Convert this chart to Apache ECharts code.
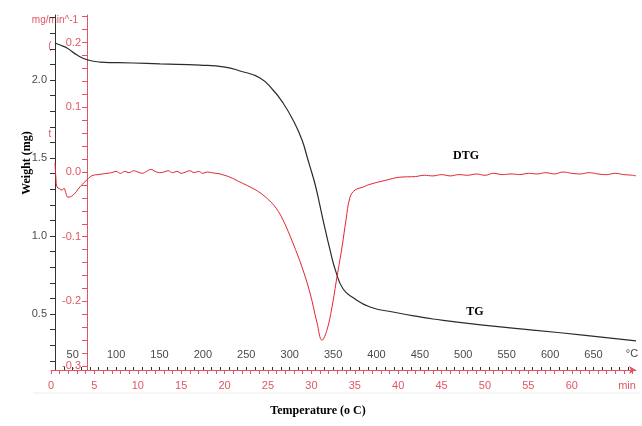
<!DOCTYPE html>
<html>
<head>
<meta charset="utf-8">
<title>TG / DTG</title>
<script src="https://cdn.jsdelivr.net/npm/echarts@6.0.0/dist/echarts.min.js"></script>
<style>
  html, body { margin: 0; padding: 0; background: #fff; }
  #chart { width: 642px; height: 426px; }
</style>
</head>
<body>
<div id="chart"></div>
<script>
// TG curve: time (min) vs weight (mg)
const tgTime = [0.46, 1.04, 1.84, 3.0, 4.26, 5.65, 9.45, 12.56, 17.17, 20.05, 21.77, 24.08,
  25.58, 26.73, 27.88, 28.92, 29.61, 30.0, 30.41, 30.88, 31.34, 32.14, 32.83, 33.64, 34.79,
  36.75, 39.4, 42.51, 44.0, 49.77, 55.53, 61.29, 67.4];
const tgWeight = [2.237, 2.224, 2.205, 2.16, 2.128, 2.115, 2.109, 2.103, 2.096, 2.083, 2.058, 2.013,
  1.936, 1.853, 1.744, 1.615, 1.487, 1.415, 1.335, 1.222, 1.104, 0.912, 0.77, 0.662, 0.605,
  0.545, 0.513, 0.481, 0.468, 0.429, 0.397, 0.365, 0.328];

// DTG curve: time (min) vs mg/min
const dtgTime = [0.46, 0.58, 0.69, 1.0, 1.27, 1.5, 1.7, 1.96, 2.53, 3.34, 4.15, 4.84, 5.4, 5.9, 6.45,
  7.0, 7.5, 8.0, 8.5, 9.0, 9.5, 10, 10.5, 11, 11.5, 12, 12.5, 13, 13.5, 14, 14.5, 15, 15.5,
  16, 16.5, 17, 17.5, 18, 18.5, 19, 19.47, 20.62, 21.77, 22.93, 24.08, 25.23, 26.0, 26.73, 27.88,
  28.92, 29.84, 30.65, 31.22, 31.8, 32.37, 32.95, 33.53, 33.99, 34.45, 35.02, 36.0, 36.75,
  38.5, 40.2, 42, 43, 44, 45, 46, 47, 48, 49, 50, 51, 52, 53, 54, 55, 56, 57, 58, 59, 60,
  61, 62, 63, 64, 65, 66, 67, 67.4];
const dtgValue = [0.014, -0.012, -0.023, -0.026, -0.028, -0.025, -0.032, -0.039, -0.036, -0.023, -0.012, -0.005, -0.004, -0.003, -0.002,
  -0.001, 0.001, -0.002, 0.001, -0.001, 0.002, 0.0, -0.002, 0.001, 0.004, 0.001, -0.001, 0.0, 0.002, -0.001, 0.001, -0.002, 0.0,
  0.002, -0.001, 0.001, -0.002, 0.0, -0.001, -0.002, -0.003, -0.008, -0.0155, -0.023, -0.032, -0.045, -0.057, -0.074, -0.11,
  -0.147, -0.187, -0.233, -0.26, -0.244, -0.209, -0.162, -0.116, -0.074, -0.039, -0.028, -0.023, -0.019,
  -0.013, -0.008, -0.007, -0.005, -0.006, -0.004, -0.006, -0.004, -0.005, -0.003, -0.005, -0.002, -0.004, -0.003, -0.004, -0.002, -0.003, -0.001, -0.003, 0.0, -0.002,
  -0.003, -0.001, -0.003, -0.004, -0.002, -0.004, -0.005, -0.006];

// tick labels
const weightLabels = [0.5, 1.0, 1.5, 2.0];
const dtgLabels = [-0.3, -0.2, -0.1, 0.0, 0.1, 0.2];
const timeLabels = [0, 5, 10, 15, 20, 25, 30, 35, 40, 45, 50, 55, 60];
const tempLabels = [50, 100, 150, 200, 250, 300, 350, 400, 450, 500, 550, 600, 650];

const steps = (from, to, step) => {
  const out = [];
  for (let v = from; v <= to + 1e-9; v += step) out.push(Math.round(v * 1000) / 1000);
  return out;
};

const RED = "#e05563";
const LINE_RED = "#e2262f";
const GRAY = "#4a4a4a";
const labelFont = "Liberation Sans, Arial, sans-serif";
const titleFont = "bold 12px Liberation Serif, Times New Roman, serif";

const chart = echarts.init(document.getElementById("chart"));

chart.setOption({
  animation: false,
  backgroundColor: "#fff",
  grid: { left: 51, right: 6, top: 15, bottom: 56 },
  xAxis: [
    {
      type: "value",
      min: 0,
      max: 67.4,
      position: "bottom",
      splitLine: { show: false },
      axisLine: {
        onZero: false,
        lineStyle: { color: RED, width: 1 },
        symbol: ["none", "arrow"],
        symbolSize: [6, 7],
      },
      axisTick: { customValues: steps(0, 67, 1), length: 4, lineStyle: { color: RED } },
      axisLabel: {
        customValues: timeLabels,
        color: RED,
        fontSize: 11,
        fontFamily: labelFont,
        margin: 10,
      },
    },
    {
      type: "value",
      min: 25,
      max: 699,
      position: "bottom",
      splitLine: { show: false },
      axisLine: { show: false, onZero: false },
      axisTick: {
        inside: true,
        customValues: steps(30, 690, 10),
        length: 3,
        lineStyle: { color: "#333" },
      },
      axisLabel: {
        inside: true,
        customValues: tempLabels,
        color: GRAY,
        fontSize: 11,
        fontFamily: labelFont,
        margin: 10,
      },
    },
  ],
  yAxis: [
    {
      type: "value",
      min: 0.141,
      max: 2.4167,
      position: "left",
      offset: -4,
      splitLine: { show: false },
      axisLine: { show: true, onZero: false, lineStyle: { color: "#333" } },
      axisTick: { customValues: steps(0.2, 2.4, 0.1), length: 5, lineStyle: { color: "#333" } },
      axisLabel: {
        customValues: weightLabels,
        formatter: (v) => v.toFixed(1),
        color: GRAY,
        fontSize: 11,
        fontFamily: labelFont,
        margin: 8,
      },
    },
    {
      type: "value",
      min: -0.306,
      max: 0.2427,
      position: "left",
      offset: -36,
      splitLine: { show: false },
      axisLine: { show: true, onZero: false, lineStyle: { color: RED } },
      axisTick: { customValues: steps(-0.3, 0.24, 0.02), length: 5, lineStyle: { color: RED } },
      axisLabel: {
        customValues: dtgLabels,
        formatter: (v) => v.toFixed(1),
        color: RED,
        fontSize: 11,
        fontFamily: labelFont,
        margin: 6,
      },
    },
  ],
  series: [
    {
      name: "TG",
      type: "line",
      xAxisIndex: 0,
      yAxisIndex: 0,
      showSymbol: false,
      smooth: 0.5,
      lineStyle: { color: "#2b2b2b", width: 1.2 },
      data: tgTime.map((t, i) => [t, tgWeight[i]]),
    },
    {
      name: "DTG",
      type: "line",
      xAxisIndex: 0,
      yAxisIndex: 1,
      showSymbol: false,
      smooth: 0.4,
      lineStyle: { color: LINE_RED, width: 1 },
      data: dtgTime.map((t, i) => [t, dtgValue[i]]),
    },
  ],
  graphic: [
    {
      type: "text",
      x: 27,
      y: 163,
      rotation: Math.PI / 2,
      style: { text: "Weight (mg)", font: titleFont, fill: "#000", textAlign: "center", textVerticalAlign: "middle" },
    },
    {
      type: "text",
      x: 318,
      y: 411,
      style: { text: "Temperature (o C)", font: titleFont, fill: "#000", textAlign: "center", textVerticalAlign: "middle" },
    },
    {
      type: "text",
      x: 466,
      y: 156,
      style: { text: "DTG", font: titleFont, fill: "#000", textAlign: "center", textVerticalAlign: "middle" },
    },
    {
      type: "text",
      x: 475,
      y: 312,
      style: { text: "TG", font: titleFont, fill: "#000", textAlign: "center", textVerticalAlign: "middle" },
    },
    {
      type: "text",
      x: 55,
      y: 20,
      style: { text: "mg/min^-1", font: "10px " + labelFont, fill: RED, textAlign: "center", textVerticalAlign: "middle" },
    },
    {
      type: "text",
      x: 50,
      y: 46,
      style: { text: "(", font: "10px " + labelFont, fill: RED, textAlign: "center", textVerticalAlign: "middle" },
    },
    {
      type: "text",
      x: 50,
      y: 134,
      style: { text: "t", font: "10px " + labelFont, fill: RED, textAlign: "center", textVerticalAlign: "middle" },
    },
    {
      type: "text",
      x: 632,
      y: 354,
      style: { text: "°C", font: "11px " + labelFont, fill: GRAY, textAlign: "center", textVerticalAlign: "middle" },
    },
    {
      type: "text",
      x: 627,
      y: 386,
      style: { text: "min", font: "11px " + labelFont, fill: RED, textAlign: "center", textVerticalAlign: "middle" },
    },
    {
      type: "line",
      shape: { x1: 33, y1: 393, x2: 640, y2: 393 },
      style: { stroke: "#ececec", lineWidth: 1 },
    },
  ],
});
</script>
</body>
</html>
